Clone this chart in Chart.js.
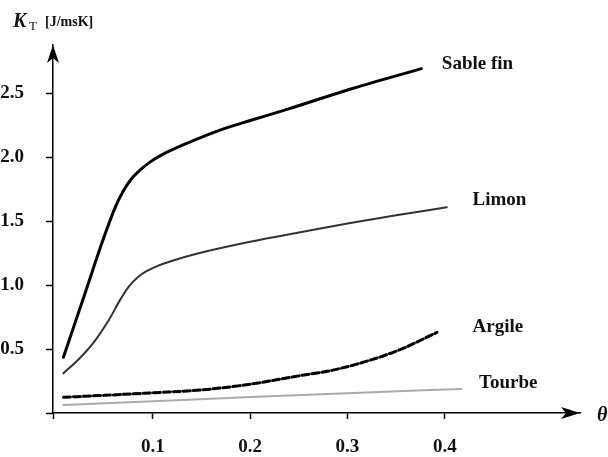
<!DOCTYPE html>
<html>
<head>
<meta charset="utf-8">
<script src="https://cdn.jsdelivr.net/npm/chart.js@4.4.1/dist/chart.umd.min.js"></script>
<style>
  html, body { margin: 0; padding: 0; background: #fff; }
  #wrap { width: 608px; height: 457px; }
</style>
</head>
<body>
<div id="wrap"><canvas id="c" width="608" height="457"></canvas></div>
<script>
// ---- data ----
const xTicks = [0.1, 0.2, 0.3, 0.4];
const xTickLabels = ['0.1', '0.2', '0.3', '0.4'];
const yTicks = [0.5, 1.0, 1.5, 2.0, 2.5];
const yTickLabels = ['0.5', '1.0', '1.5', '2.0', '2.5'];

const seriesNames = ['Sable fin', 'Limon', 'Argile', 'Tourbe'];

const sableTheta = [0.008, 0.030, 0.050, 0.062, 0.070, 0.078, 0.087, 0.097, 0.110, 0.131, 0.169, 0.200, 0.237, 0.306, 0.376];
const sableK     = [0.435, 0.93, 1.38, 1.62, 1.74, 1.83, 1.90, 1.96, 2.02, 2.094, 2.21, 2.285, 2.37, 2.537, 2.69];

const limonTheta = [0.008, 0.025, 0.040, 0.055, 0.066, 0.076, 0.085, 0.094, 0.105, 0.120, 0.148, 0.200, 0.250, 0.300, 0.350, 0.402];
const limonK     = [0.31, 0.43, 0.56, 0.73, 0.88, 0.995, 1.065, 1.11, 1.15, 1.19, 1.25, 1.338, 1.41, 1.48, 1.545, 1.607];

const argileTheta = [0.008, 0.050, 0.100, 0.150, 0.200, 0.250, 0.285, 0.320, 0.354, 0.392];
const argileK     = [0.123, 0.138, 0.158, 0.18, 0.225, 0.29, 0.335, 0.405, 0.495, 0.63];

const tourbeTheta = [0.008, 0.100, 0.200, 0.300, 0.417];
const tourbeK     = [0.062, 0.092, 0.125, 0.155, 0.188];

// label anchors (left/baseline) in data units
const labelTheta = [0.397, 0.4285, 0.4285, 0.4353];
const labelK     = [2.6875, 1.625, 0.630, 0.193];

const xMin = -0.0027, xMax = 0.539;
const yMin = 0, yMax = 2.875;

const pts = (xs, ys) => xs.map((x, i) => ({ x: x, y: ys[i] }));

const serif = "'Liberation Serif', 'DejaVu Serif', serif";
Chart.defaults.font.family = serif;
Chart.defaults.color = '#111';

const overlay = {
  id: 'overlay',
  afterDraw(chart) {
    const ctx = chart.ctx;
    const xs = chart.scales.x, ys = chart.scales.y;
    const ox = xs.getPixelForValue(xMin);
    const oy = ys.getPixelForValue(yMin);
    const tx = xs.getPixelForValue(xMax);
    const ty = ys.getPixelForValue(yMax);
    ctx.save();
    ctx.fillStyle = '#000';
    // y arrow
    ctx.beginPath();
    ctx.moveTo(ox, ty);
    ctx.lineTo(ox + 6, ty + 18);
    ctx.lineTo(ox, ty + 13);
    ctx.lineTo(ox - 6, ty + 18);
    ctx.closePath();
    ctx.fill();
    // x arrow
    ctx.beginPath();
    ctx.moveTo(tx, oy);
    ctx.lineTo(tx - 19, oy - 6);
    ctx.lineTo(tx - 14, oy);
    ctx.lineTo(tx - 19, oy + 6);
    ctx.closePath();
    ctx.fill();

    // axis titles
    ctx.fillStyle = '#111';
    ctx.textBaseline = 'alphabetic';
    ctx.textAlign = 'left';
    ctx.font = "italic bold 20px " + serif;
    ctx.fillText('K', 13, 27);
    ctx.font = "13px " + serif;
    ctx.fillText('T', 29, 30);
    ctx.font = "bold 14px " + serif;
    ctx.fillText('[J/msK]', 45, 26);
    ctx.font = "italic bold 20px " + serif;
    ctx.fillText('θ', 597, 421);

    // series labels
    ctx.font = "bold 19px " + serif;
    seriesNames.forEach((n, i) => {
      ctx.fillText(n, xs.getPixelForValue(labelTheta[i]), ys.getPixelForValue(labelK[i]));
    });
    ctx.restore();
  }
};

new Chart(document.getElementById('c'), {
  type: 'line',
  data: {
    datasets: [
      { label: seriesNames[0], data: pts(sableTheta, sableK), borderColor: '#000', borderWidth: 3 },
      { label: seriesNames[1], data: pts(limonTheta, limonK), borderColor: '#333', borderWidth: 2 },
      { label: seriesNames[2], data: pts(argileTheta, argileK), borderColor: '#000', borderWidth: 3, borderDash: [7, 3] },
      { label: seriesNames[3], data: pts(tourbeTheta, tourbeK), borderColor: '#ababab', borderWidth: 2 }
    ]
  },
  options: {
    responsive: false,
    animation: false,
    devicePixelRatio: 1,
    parsing: false,
    elements: {
      point: { radius: 0 },
      line: { cubicInterpolationMode: 'monotone', fill: false, borderCapStyle: 'round' }
    },
    layout: { padding: { left: 0, top: 45, right: 28, bottom: 0 } },
    plugins: { legend: { display: false }, tooltip: { enabled: false } },
    scales: {
      x: {
        type: 'linear',
        min: xMin, max: xMax,
        afterFit(s) { s.height = 44; },
        afterBuildTicks(s) { s.ticks = [{ value: xMin }].concat(xTicks.map(v => ({ value: v }))); },
        ticks: {
          autoSkip: false, maxRotation: 0, padding: 17,
          font: { size: 19, weight: 'bold' }, color: '#111',
          callback(v) { const i = xTicks.indexOf(v); return i < 0 ? '' : xTickLabels[i]; }
        },
        grid: { drawOnChartArea: false, drawTicks: true, tickLength: 6, tickWidth: 1.5, tickColor: '#000' },
        border: { display: true, color: '#000', width: 1.5 }
      },
      y: {
        type: 'linear',
        min: yMin, max: yMax,
        afterFit(s) { s.width = 53; },
        afterBuildTicks(s) { s.ticks = [{ value: yMin }].concat(yTicks.map(v => ({ value: v }))); },
        ticks: {
          autoSkip: false, padding: 22,
          font: { size: 19, weight: 'bold' }, color: '#111',
          callback(v) { const i = yTicks.indexOf(v); return i < 0 ? '' : yTickLabels[i]; }
        },
        grid: { drawOnChartArea: false, drawTicks: true, tickLength: 7, tickWidth: 1.5, tickColor: '#000' },
        border: { display: true, color: '#000', width: 1.5 }
      }
    }
  },
  plugins: [overlay]
});
</script>
</body>
</html>
